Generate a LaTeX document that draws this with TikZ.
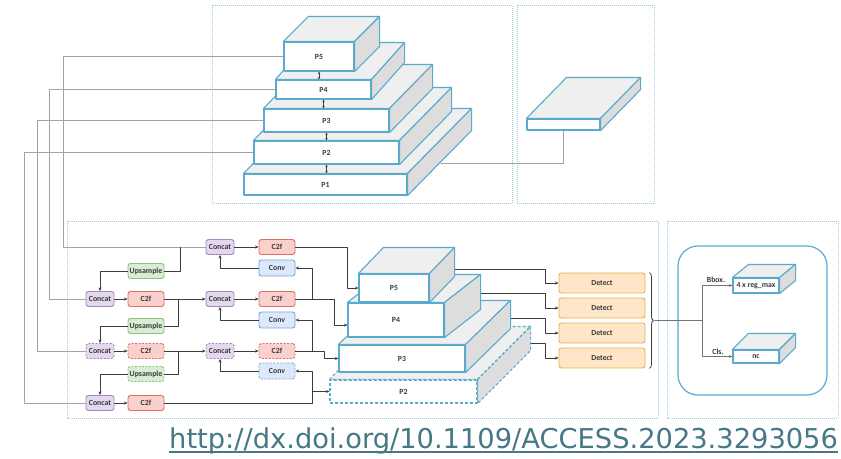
\documentclass[tikz,border=0pt]{standalone}
\usepackage{fontspec}
\setmainfont{Carlito}
\newfontfamily\linkfont{DejaVu Sans}
\usetikzlibrary{arrows.meta,decorations.pathreplacing,calc}

\definecolor{edgeblue}{HTML}{5AAACB}
\definecolor{topgray}{HTML}{EFEFEF}
\definecolor{sidegray}{HTML}{DDDDDD}
\definecolor{frameblue}{HTML}{9FC9DE}
\definecolor{wirecol}{HTML}{3C3C3C}
\definecolor{pwire}{HTML}{A3A3A3}
\definecolor{lblcol}{HTML}{3A3A3A}
\definecolor{catfill}{HTML}{E4D8EE}
\definecolor{catline}{HTML}{A488C0}
\definecolor{c2ffill}{HTML}{F9D0CC}
\definecolor{c2fline}{HTML}{D8716A}
\definecolor{upsfill}{HTML}{D9ECD4}
\definecolor{upsline}{HTML}{8FC07D}
\definecolor{convfill}{HTML}{DCE9FB}
\definecolor{convline}{HTML}{7FA2D0}
\definecolor{detfill}{HTML}{FFE6C8}
\definecolor{detline}{HTML}{E3B24C}
\definecolor{linkcol}{HTML}{467886}

\newcommand\lblfont{\bfseries\fontsize{7.8}{9}\selectfont}

% front face as a named node, top and side faces drawn from its anchors
% #1 style, #2 name, #3 centre, #4 width, #5 height, #6 dx, #7 dy, #8 label
\newcommand\drawprism[8]{%
  \node[#1, minimum width=#4pt, minimum height=#5pt] (#2) at #3 {#8};
  \path[#1, fill=topgray] (#2.north west) -- ([shift={(#6,-#7)}]#2.north west)
     -- ([shift={(#6,-#7)}]#2.north east) -- (#2.north east) -- cycle;
  \path[#1, fill=sidegray] (#2.north east) -- ([shift={(#6,-#7)}]#2.north east)
     -- ([shift={(#6,-#7)}]#2.south east) -- (#2.south east) -- cycle;
}

\tikzset{
  cube/.style={draw=edgeblue, line width=1.1pt, fill=white, inner sep=0pt,
    font=\lblfont, text=lblcol},
  cubeghost/.style={cube, dash pattern=on 3pt off 2pt},
  blk/.style={rounded corners=2.5pt, line width=0.9pt, minimum height=15pt,
    inner sep=0pt, font=\lblfont, text=lblcol},
  cat/.style={blk, fill=catfill, draw=catline, minimum width=28pt},
  c2f/.style={blk, fill=c2ffill, draw=c2fline, minimum width=36pt},
  ups/.style={blk, fill=upsfill, draw=upsline, minimum width=36pt},
  conv/.style={blk, fill=convfill, draw=convline, minimum width=36pt, minimum height=16pt},
  det/.style={blk, fill=detfill, draw=detline, minimum width=86pt, minimum height=20pt},
  ghost/.style={dash pattern=on 2pt off 1.5pt},
  wire/.style={draw=wirecol, line width=0.9pt},
  arr/.style={wire, -{Stealth[length=3.5pt,width=3pt]}},
  dbl/.style={wire, {Stealth[length=2.5pt,width=2.5pt]}-{Stealth[length=2.5pt,width=2.5pt]}},
  pline/.style={draw=pwire, line width=0.9pt},
  gwire/.style={draw=black!55, line width=0.9pt},
  garr/.style={gwire, -{Stealth[length=3.5pt,width=3pt]}},
  frame/.style={draw=frameblue, line width=0.9pt, dash pattern=on 1pt off 1pt},
  tag/.style={font=\lblfont, text=lblcol, inner sep=1pt},
}

\begin{document}
\begin{tikzpicture}[x=1pt, y=-1pt, line join=round]
\useasboundingbox (0,0) rectangle (841,458);
\fill[white] (0,0) rectangle (841,458);

% dotted panels
\draw[frame] (212,5) rectangle (512,203);
\draw[frame] (517,5) rectangle (654,203);
\draw[frame] (67,221) rectangle (658,418);
\draw[frame] (667,221) rectangle (838,418);

% backbone pyramid
\drawprism{cube}{p1}{(325.5,184.5)}{163}{21}{64}{65}{P1}
\drawprism{cube}{p2}{(326.5,152.5)}{145}{23}{52}{53}{P2}
\drawprism{cube}{p3}{(326.5,120.5)}{125}{23}{43}{44}{P3}
\drawprism{cube}{p4}{(323.5,89.5)}{95}{19}{33}{37}{P4}
\drawprism{cube}{p5}{(319,56.5)}{70}{29}{25}{25}{P5}
\draw[dbl] (p5.south) -- (p5.south |- p4.north);
\draw[dbl] (p4.south) -- (p4.south |- p3.north);
\draw[dbl] (p3.south) -- (p3.south |- p2.north);
\draw[dbl] (p2.south) -- (p2.south |- p1.north);

% input slab
\drawprism{cube}{slab}{(563.5,124.5)}{73}{11}{40}{41}{}
\draw[pline] ([shift={(33,-32)}]p1.south east) -| (slab.south);

% neck blocks
\node[cat] (cat1) at (220,247) {Concat};
\node[c2f] (c2f1) at (277,247) {C2f};
\node[ups] (ups1) at (146,271) {Upsample};
\node[conv] (conv1) at (277,268) {Conv};

\node[cat] (cat2a) at (100,299) {Concat};
\node[c2f] (c2f2a) at (146,299) {C2f};
\node[cat] (cat2b) at (220,299) {Concat};
\node[c2f] (c2f2b) at (277,299) {C2f};
\node[ups] (ups2) at (146,326) {Upsample};
\node[conv] (conv2) at (277,320) {Conv};

\node[cat, ghost] (cat3a) at (100,351) {Concat};
\node[c2f, ghost] (c2f3a) at (146,351) {C2f};
\node[cat, ghost] (cat3b) at (220,351) {Concat};
\node[c2f, ghost] (c2f3b) at (277,351) {C2f};
\node[ups, ghost] (ups3) at (146,374) {Upsample};
\node[conv, ghost] (conv3) at (277,371) {Conv};

\node[cat] (cat4) at (100,403) {Concat};
\node[c2f] (c2f4) at (146,403) {C2f};

% head pyramid
\drawprism{cubeghost}{q2}{(403.5,391.5)}{147}{23}{53}{53}{P2}
\drawprism{cube}{q3}{(402,358.5)}{126}{27}{45}{44}{P3}
\drawprism{cube}{q4}{(396,320)}{96}{34}{36}{28}{P4}
\drawprism{cube}{q5}{(394,288)}{70}{28}{25}{26}{P5}

% detect heads
\node[det] (det1) at (602,283) {Detect};
\node[det] (det2) at (602,308) {Detect};
\node[det] (det3) at (602,333) {Detect};
\node[det] (det4) at (602,358) {Detect};

% backbone outputs into the neck
\coordinate (k5) at (63,247);
\coordinate (k4) at (49,299);
\coordinate (k3) at (37,351);
\coordinate (k2) at (24,403);
\draw[pline] (p5.west) -| (k5) -- (cat1.west);
\draw[pline] (p4.west) -| (k4) -- (cat2a.west);
\draw[pline] (p3.west) -| (k3) -- (cat3a.west);
\draw[pline] (p2.west) -| (k2) -- (cat4.west);

% top-down path
\coordinate (u1) at (180,247);
\coordinate (u2) at (178,299);
\coordinate (u3) at (178,351);
\draw[wire] (ups1.east) -| (u1);
\draw[arr] (ups1.west) -| (cat2a.north);
\draw[arr] (cat2a.east) -- (c2f2a.west);
\draw[arr] (c2f2a.east) -- (cat2b.west);
\draw[wire] (ups2.east) -| (u2);
\draw[arr] (ups2.west) -| (cat3a.north);
\draw[arr] (cat3a.east) -- (c2f3a.west);
\draw[arr] (c2f3a.east) -- (cat3b.west);
\draw[wire] (ups3.east) -| (u3);
\draw[arr] (ups3.west) -| (cat4.north);
\draw[arr] (cat4.east) -- (c2f4.west);

% bottom-up path
\coordinate (j4) at (312,403);
\coordinate (j3) at (312,351);
\coordinate (j2) at (312,299);
\draw[arr] (c2f4.east) -- (j4) |- (conv3.east);
\draw[arr] (j4 |- q2.west) -- (q2.west);
\draw[arr] (conv3.west) -| (cat3b.south);
\draw[arr] (cat3b.east) -- (c2f3b.west);
\draw[arr] (c2f3b.east) -| ([xshift=-14pt]q3.west) -- (q3.west);
\draw[arr] (j3) |- (conv2.east);
\draw[arr] (conv2.west) -| (cat2b.south);
\draw[arr] (cat2b.east) -- (c2f2b.west);
\draw[arr] (c2f2b.east) -| ([shift={(-13,5)}]q4.west) -- ([shift={(0,5)}]q4.west);
\draw[arr] (j2) |- (conv1.east);
\draw[arr] (conv1.west) -| (cat1.south);
\draw[arr] (cat1.east) -- (c2f1.west);
\draw[arr] (c2f1.east) -| ([xshift=-11pt]q5.west) -- (q5.west);

% pyramid levels to the heads
\draw[arr] ([shift={(25,-19)}]q5.east) -| ([xshift=-13pt]det1.west) -- (det1.west);
\draw[arr] ([shift={(36,-27)}]q4.east) -| ([xshift=-13pt]det2.west) -- (det2.west);
\draw[arr] ([shift={(45,-40.5)}]q3.east) -| ([xshift=-13pt]det3.west) -- (det3.west);
\draw[arr] ([shift={(53,-48.5)}]q2.east) -| ([xshift=-13pt]det4.west) -- (det4.west);

% head outputs
\draw[wire, line width=0.8pt, decorate, decoration={brace, amplitude=4pt}]
  ([xshift=4pt]det1.north east) -- ([xshift=4pt]det4.south east);
\draw[draw=edgeblue, line width=1.2pt, rounded corners=20pt] (678,246) rectangle (827,395);
\drawprism{cube}{bbox}{(756,285.5)}{46}{15}{16}{13}{4 x reg\_max}
\drawprism{cube}{nc}{(756,356.5)}{46}{13}{16}{16}{nc}
\coordinate (tip) at ($(det1.north east)!0.5!(det4.south east)+(9,0)$);
\coordinate (fork) at (702,320.5);
\draw[gwire] (tip) -- (fork);
\draw[garr] (fork) |- (bbox.west);
\draw[garr] (fork) |- (nc.west);
\node[tag, anchor=south] (bboxtag) at (716,284) {Bbox.};
\node[tag, anchor=south] (clstag) at (718,356) {Cls.};

% reference link
\node[anchor=base west, inner sep=0pt, text=linkcol,
      font=\linkfont\fontsize{27.3}{30}\selectfont] (doi) at (169,448)
  {http://dx.doi.org/10.1109/ACCESS.2023.3293056};
\draw[draw=linkcol, line width=1.3pt] ([yshift=-4pt]doi.base west) -- ([yshift=-4pt]doi.base east);
\end{tikzpicture}
\end{document}
